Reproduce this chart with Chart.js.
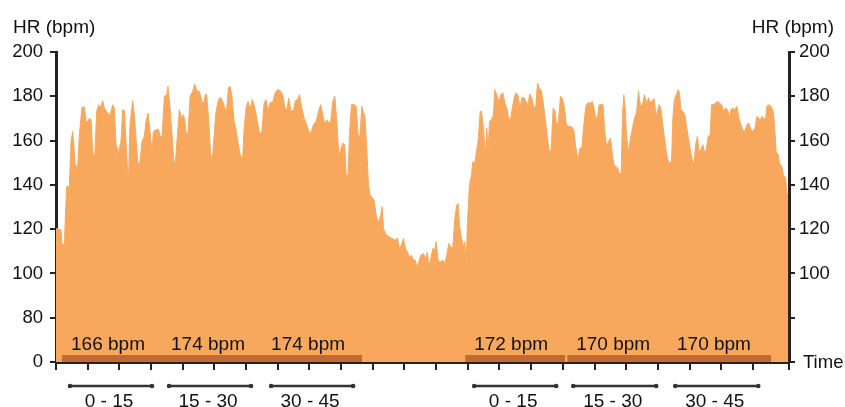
<!DOCTYPE html>
<html>
<head>
<meta charset="utf-8">
<script src="https://cdn.jsdelivr.net/npm/chart.js@4.4.1/dist/chart.umd.min.js"></script>
<style>
  html, body { margin: 0; padding: 0; background: #fff; }
</style>
</head>
<body>
<canvas id="hrChart" width="845" height="407"></canvas>
<script>
// heart rate trace, time in minutes from start of recording
const hrMinutes = [
  // session 1
  0, 0.79, 0.95, 1.32, 1.47, 1.68, 2.11, 2.37, 2.63, 2.89,
  3.05, 3.42, 3.68, 4.11, 4.47, 4.74, 5.11, 5.26, 5.53, 5.79,
  6.11, 6.42, 6.74, 7.0, 7.37, 7.63, 8.16, 8.53, 8.95, 9.21,
  9.47, 9.89, 10.26, 10.53, 10.79, 11.05, 11.32, 11.47, 11.68, 12.11,
  12.37, 12.63, 12.89, 13.16, 13.58, 13.95, 14.21, 14.53, 14.74, 15.16,
  15.37, 15.79, 16.21, 16.42, 16.74, 17.11, 17.47, 17.68, 18.0, 18.32,
  18.63, 18.84, 19.21, 19.47, 19.79, 20.11, 20.32, 20.53, 20.84, 21.16,
  21.58, 21.89, 22.21, 22.63, 23.05, 23.37, 23.58, 23.79, 24.11, 24.42,
  24.74, 25.16,
  25.27, 25.64, 26.0, 26.32, 26.69, 26.95, 27.21, 27.48, 27.74, 28.11,
  28.43, 28.79, 29.16, 29.48, 29.69, 30.0, 30.32, 30.64, 30.95, 31.27,
  31.69, 32.11, 32.48, 32.85, 33.16, 33.48, 33.79, 34.21, 34.58, 34.95,
  35.37, 35.79, 36.16, 36.43, 36.74, 37.06, 37.48, 37.79, 38.11, 38.43,
  38.79, 39.16, 39.58, 40.0, 40.32, 40.64, 41.06, 41.43, 41.79, 42.11,
  42.43, 42.74, 43.06, 43.37, 43.69, 44.0, 44.32, 44.64, 44.95, 45.27,
  45.58, 45.79, 46.11, 46.32, 46.64, 47.06, 47.37, 47.69, 47.9,
  // recovery
  48.0, 48.26, 48.53, 48.74, 49.05, 49.32, 49.58, 50.0, 50.21, 50.53,
  50.89, 51.26, 51.47, 51.68, 52.11, 52.63, 53.05, 53.58, 53.89, 54.21,
  54.53, 54.84, 55.16, 55.47, 55.79, 56.11, 56.42, 56.74, 56.95, 57.26,
  57.58, 58.0, 58.32, 58.63, 58.84, 59.16, 59.47, 59.79, 60.0, 60.32,
  60.63, 61.05, 61.37, 61.68, 62.0, 62.32, 62.63, 62.95, 63.26, 63.47,
  63.68, 64.0, 64.32, 64.53, 64.74,
  // session 2
  64.95, 65.26, 65.58, 65.79, 66.11,
  66.32, 66.63, 66.95, 67.16, 67.47, 67.79, 68.0, 68.21, 68.42, 68.74,
  69.05, 69.26, 69.58, 69.89, 70.21, 70.53, 70.84, 71.16, 71.47, 71.79,
  72.11, 72.53,
  72.89, 73.26, 73.52, 73.84, 74.15, 74.47, 74.79, 75.1, 75.42, 75.73,
  76.0, 76.26, 76.57, 76.89, 77.21, 77.52, 77.84, 78.15, 78.47, 78.79,
  79.0, 79.31, 79.63, 79.94, 80.26, 80.57, 80.89, 81.31, 81.73, 81.94,
  82.26, 82.47, 82.68, 83.0, 83.31, 83.63, 83.94, 84.36, 84.68, 85.0,
  85.31, 85.52, 85.73, 86.05, 86.36, 86.57, 86.89, 87.21, 87.52, 87.84,
  88.05, 88.36, 88.68, 88.89, 89.21, 89.42, 89.63, 89.84, 90.05, 90.36,
  90.68, 91.0, 91.31, 91.63, 91.94, 92.26, 92.57, 92.89, 93.21, 93.52,
  93.84,
  94.42, 94.63, 94.84, 95.16, 95.47, 95.79, 96.11, 96.42, 96.68, 97.16,
  97.37, 97.58, 97.89, 98.21, 98.42, 98.63, 98.95, 99.26, 99.58, 99.9,
  100.21, 100.53, 100.74, 100.95, 101.26, 101.47, 101.79, 102.11, 102.32, 102.63,
  102.95, 103.26, 103.47, 103.79, 104.11, 104.42, 104.74, 105.05, 105.37, 105.68,
  106.0, 106.32, 106.53, 106.84, 107.16, 107.47, 107.79, 108.11, 108.42, 108.74,
  109.05, 109.37, 109.68, 110.0, 110.32, 110.63, 110.95, 111.16, 111.37, 111.68,
  112.0, 112.21, 112.53, 112.84, 113.16, 113.37, 113.68, 114.0, 114.21, 114.53,
  114.84, 115.16, 115.37, 115.58
];

const hrBpm = [
  // session 1
  120.3, 119.6, 113, 113, 125, 139.2, 139.2, 159.6, 164.1, 155,
  148.7, 148.3, 162.6, 175.1, 175.1, 168.7, 168.7, 170.2, 169.4, 155,
  152.3, 173.2, 176.2, 174.7, 178, 174.7, 172.4, 171.4, 176.2, 174.7,
  158.1, 155, 159.6, 174, 173.5, 159.6, 145.2, 145.2, 167.1, 178,
  171.7, 161.1, 150.5, 148.3, 159.6, 161.9, 168.7, 172.4, 167.1, 154.3,
  164.1, 164.9, 164.9, 161.9, 161.9, 180, 180.7, 184.5, 174.7, 162.6,
  150.2, 150.2, 164.1, 174, 170.2, 171.7, 169.4, 163.4, 163.4, 180,
  182.2, 185.6, 182.6, 182.2, 177.7, 177, 181, 180.7, 168.7, 152.8,
  153.5, 170.2,
  173.2, 178.5, 179.5, 177.7, 174.2, 174.2, 183.8, 184.5, 180.7, 168.7,
  164.9, 158.1, 152.3, 152.8, 165.6, 174.7, 177.7, 174, 178.5, 176.2,
  170.2, 163.4, 163.4, 177, 178.5, 173.5, 177, 177.4, 181.5, 183,
  182.6, 180.7, 174.7, 174, 179.2, 173.5, 173.5, 178, 178.5, 180.7,
  174.7, 170.2, 167.1, 163.4, 164.1, 167.1, 168.7, 173.2, 176.2, 171.7,
  167.4, 169.4, 167.9, 168.7, 177.7, 180, 168.7, 153.5, 155.8, 158.8,
  158.1, 144.5, 144.5, 162.6, 176.2, 176.2, 175.5, 162.6, 161.9,
  // recovery
  162.6, 175.5, 172.4, 171.7, 156.6, 139.9, 135.4, 133.9, 133.2, 126.4,
  122.6, 126.4, 130.1, 120.3, 117.3, 116.5, 115.8, 115, 116.1, 111.3,
  112.8, 115.8, 111.3, 109.7, 107.5, 108.2, 106, 106, 102.5, 105.2,
  108.2, 109, 106.7, 109.7, 103, 106.7, 111.3, 110.5, 114.3, 106,
  105.2, 106, 104.5, 108.2, 113.5, 112, 111.3, 124.8, 130.9, 131.6,
  121.8, 115.8, 112, 114.3, 103.7,
  // session 2
  123.3, 139.9, 144.5, 150.5, 149.8,
  154.3, 159.6, 173.2, 173.2, 165.6, 152.8, 165.6, 155, 168.7, 169.4,
  171.7, 183, 180.7, 177.7, 180.7, 181.5, 177, 174.7, 169.4, 170.2,
  176.2, 181.5,
  180.7, 174.7, 179.2, 179.5, 177.7, 176.2, 181, 179.2, 174.7, 175.5,
  186, 183.8, 183, 177.7, 170.2, 162.6, 155.4, 155.4, 174.7, 173.2,
  166.4, 168.7, 180, 179.2, 174.7, 167.1, 166.4, 166.4, 164.9, 159.6,
  152.8, 152.8, 156.6, 156.6, 167.1, 175.5, 177, 177, 177.7, 173.2,
  169.4, 171.7, 176.2, 176.2, 176.2, 165.6, 157.3, 159.6, 161.1, 153.5,
  149, 148.3, 147.5, 145.2, 145.2, 171.7, 180.7, 174.7, 162.6, 155,
  161.1, 165.6, 170.2, 172.4, 182.2, 175.5, 176.2, 180.7, 177, 179.2,
  177,
  178.9, 173.2, 171.7, 176.2, 174.7, 167.1, 159.6, 153.5, 150.2, 150.2,
  170.2, 177.7, 180.7, 183, 181.5, 173.9, 173.2, 171.7, 165.6, 159.6,
  154.3, 150.2, 150.2, 158.1, 161.9, 155, 155.8, 158.1, 155, 155.8,
  161.9, 162.6, 176.2, 176.2, 177, 177.7, 177, 176.2, 173.2, 174.7,
  173.9, 170.2, 173.9, 174.7, 173.9, 175.5, 170.2, 167.1, 164.9, 164.1,
  167.1, 167.9, 164.9, 164.1, 165.6, 170.9, 170.2, 168.7, 170.9, 170.2,
  169.4, 175.5, 176.2, 175.5, 173.9, 168.7, 155, 153.5, 149.5, 148.7,
  144.5, 143, 136.2, 136.2
];

// 15 minute averages
const avgStart = [0.95, 16.74, 32.53, 64.58, 80.69, 96.6];
const avgEnd = [16.74, 32.53, 48.3, 80.37, 96.6, 112.9];
const avgBpm = [166, 174, 174, 172, 170, 170];

// interval brackets under the time axis
const intervalStart = [2.21, 17.84, 33.95, 66.0, 81.64, 97.74];
const intervalEnd = [15.16, 30.79, 46.9, 78.95, 94.74, 110.85];
const intervalLabels = ['0 - 15', '15 - 30', '30 - 45', '0 - 15', '15 - 30', '30 - 45'];

const FONT = "'Liberation Sans', Arial, sans-serif";
const AREA_COLOR = '#f8a85c';
const AVG_COLOR = '#c4692f';
const INK = '#222';
const AVG_BAR_TOP = 63.2;

if (hrMinutes.length !== hrBpm.length) console.error('length mismatch', hrMinutes.length, hrBpm.length);

const datasets = [];
avgStart.forEach((s, i) => {
  datasets.push({
    type: 'line',
    data: [{ x: s, y: AVG_BAR_TOP }, { x: avgEnd[i], y: AVG_BAR_TOP }],
    fill: 'start',
    backgroundColor: AVG_COLOR,
    borderWidth: 0,
    pointRadius: 0,
    order: 0
  });
});
datasets.push({
  type: 'line',
  data: hrMinutes.map((t, i) => ({ x: t, y: hrBpm[i] })),
  fill: 'start',
  backgroundColor: AREA_COLOR,
  borderColor: AREA_COLOR,
  borderWidth: 1,
  pointRadius: 0,
  tension: 0,
  order: 1
});

const annotations = {
  id: 'hrAnnotations',
  afterDraw(chart) {
    const { ctx, chartArea, scales: { x, y } } = chart;
    ctx.save();
    ctx.fillStyle = '#111';
    ctx.font = '19px ' + FONT;
    ctx.textBaseline = 'alphabetic';

    ctx.textAlign = 'left';
    ctx.fillText('HR (bpm)', 13, 33);
    ctx.textAlign = 'right';
    ctx.fillText('HR (bpm)', 834, 33);

    // axis name at the end of the time axis
    ctx.font = '18.5px ' + FONT;
    ctx.textAlign = 'left';
    ctx.textBaseline = 'middle';
    ctx.fillText('Time', chartArea.right + 14, chartArea.bottom + 1);

    ctx.font = '19px ' + FONT;
    ctx.textBaseline = 'alphabetic';
    const labelY = y.getPixelForValue(AVG_BAR_TOP) - 5;
    avgBpm.forEach((v, i) => {
      ctx.fillText(v + ' bpm', x.getPixelForValue(avgStart[i]) + 9, labelY);
    });

    // brackets
    ctx.strokeStyle = '#333';
    ctx.fillStyle = '#333';
    ctx.lineWidth = 2.5;
    intervalStart.forEach((s, i) => {
      const x1 = x.getPixelForValue(s);
      const x2 = x.getPixelForValue(intervalEnd[i]);
      ctx.beginPath();
      ctx.moveTo(x1, 386);
      ctx.lineTo(x2, 386);
      ctx.stroke();
      [x1, x2].forEach(px => {
        ctx.beginPath();
        ctx.arc(px, 386, 2.3, 0, Math.PI * 2);
        ctx.fill();
      });
    });
    ctx.fillStyle = '#111';
    ctx.textAlign = 'center';
    intervalLabels.forEach((lab, i) => {
      const cx = (x.getPixelForValue(intervalStart[i]) + x.getPixelForValue(intervalEnd[i])) / 2;
      ctx.fillText(lab, cx - 2, 407);
    });
    ctx.restore();
  }
};

const tickFont = { family: FONT, size: 18.5 };

new Chart(document.getElementById('hrChart'), {
  data: { datasets: datasets },
  options: {
    responsive: false,
    animation: false,
    devicePixelRatio: 1,
    layout: { padding: { top: 52, left: 0, right: 0, bottom: 0 } },
    plugins: { legend: { display: false }, tooltip: { enabled: false } },
    scales: {
      x: {
        type: 'linear',
        min: 0,
        max: 115.7,
        afterFit(s) { s.height = 45; },
        ticks: { stepSize: 5, autoSkip: false, callback: () => '' },
        grid: { drawOnChartArea: false, tickLength: 8, lineWidth: 2, color: INK },
        border: { width: 3, color: INK }
      },
      y: {
        type: 'linear',
        position: 'left',
        min: 60,
        max: 200,
        afterFit(s) { s.width = 56; },
        ticks: {
          stepSize: 20,
          padding: 7,
          color: '#111',
          font: tickFont,
          callback: v => (v === 60 ? '0' : v)
        },
        grid: { drawOnChartArea: false, tickLength: 6, lineWidth: 2, color: INK },
        border: { width: 3, color: INK }
      },
      y2: {
        type: 'linear',
        position: 'right',
        min: 60,
        max: 200,
        afterFit(s) { s.width = 56; },
        ticks: {
          stepSize: 20,
          padding: 4,
          color: '#111',
          font: tickFont,
          callback: v => (v === 60 || v === 80 ? '' : v)
        },
        grid: { drawOnChartArea: false, tickLength: 6, lineWidth: 2, color: INK },
        border: { width: 3, color: INK }
      }
    }
  },
  plugins: [annotations]
});
</script>
</body>
</html>
